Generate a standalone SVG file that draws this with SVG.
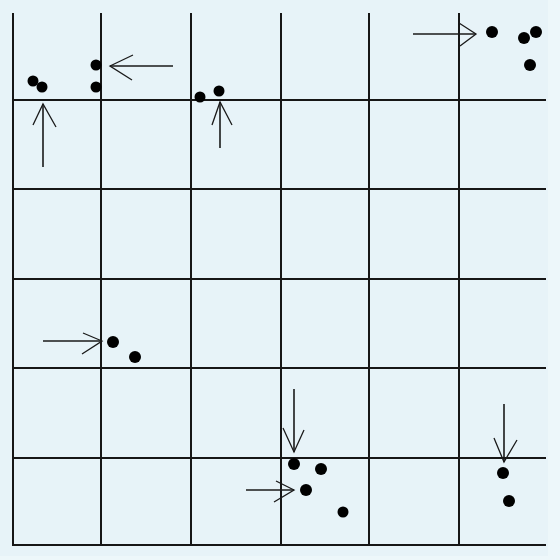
<svg xmlns="http://www.w3.org/2000/svg" width="560" height="560" viewBox="0 0 560 560">
<style>
.grid line{stroke:#161616;stroke-width:2}
.arrow{stroke:#1a1a1a;stroke-width:1.6;fill:none}
.head{stroke:#1a1a1a;stroke-width:1.3;fill:none}
.dot{fill:#000}
</style>
<rect x="0" y="0" width="560" height="560" fill="#edf7fa"/>
<rect x="0" y="0" width="548" height="556" fill="#e7f3f8"/>
<g id="grid" class="grid">
<line x1="13" y1="13" x2="13" y2="546"/>
<line x1="101" y1="13" x2="101" y2="546"/>
<line x1="191" y1="13" x2="191" y2="546"/>
<line x1="281" y1="13" x2="281" y2="546"/>
<line x1="369" y1="13" x2="369" y2="546"/>
<line x1="459" y1="13" x2="459" y2="546"/>
<line x1="12" y1="100" x2="546" y2="100"/>
<line x1="12" y1="189" x2="546" y2="189"/>
<line x1="12" y1="279" x2="546" y2="279"/>
<line x1="12" y1="368" x2="546" y2="368"/>
<line x1="12" y1="458" x2="546" y2="458"/>
<line x1="12" y1="545" x2="546" y2="545"/>
</g>
<g id="dots">
<circle class="dot" cx="33" cy="81" r="5.5"/>
<circle class="dot" cx="42" cy="87" r="5.5"/>
<circle class="dot" cx="96" cy="65" r="5.5"/>
<circle class="dot" cx="96" cy="87" r="5.5"/>
<circle class="dot" cx="200" cy="97" r="5.5"/>
<circle class="dot" cx="219" cy="91" r="5.5"/>
<circle class="dot" cx="492" cy="32" r="6"/>
<circle class="dot" cx="524" cy="38" r="6"/>
<circle class="dot" cx="536" cy="32" r="6"/>
<circle class="dot" cx="530" cy="65" r="6"/>
<circle class="dot" cx="113" cy="342" r="6"/>
<circle class="dot" cx="135" cy="357" r="6"/>
<circle class="dot" cx="294" cy="464" r="6"/>
<circle class="dot" cx="321" cy="469" r="6"/>
<circle class="dot" cx="306" cy="490" r="6"/>
<circle class="dot" cx="343" cy="512" r="5.5"/>
<circle class="dot" cx="503" cy="473" r="6"/>
<circle class="dot" cx="509" cy="501" r="6"/>
</g>
<g id="connectors">
<g id="a1"><line class="arrow" x1="43" y1="167" x2="43" y2="104"/><polyline class="head" points="33,125 43,104 56,127"/></g>
<g id="a2"><line class="arrow" x1="173" y1="66" x2="110" y2="66"/><polyline class="head" points="133,55 110,66 132,80"/></g>
<g id="a3"><line class="arrow" x1="220" y1="148" x2="220" y2="102"/><polyline class="head" points="212,125 220,102 232,125"/></g>
<g id="a4"><line class="arrow" x1="413" y1="34" x2="476" y2="34"/><polyline class="head" points="459,23 476,34 460,46"/></g>
<g id="a5"><line class="arrow" x1="43" y1="341" x2="102" y2="341"/><polyline class="head" points="83,333 102,341 82,354"/></g>
<g id="a6"><line class="arrow" x1="294" y1="389" x2="294" y2="452"/><polyline class="head" points="283,428 294,452 304,430"/></g>
<g id="a7"><line class="arrow" x1="246" y1="490" x2="294" y2="490"/><polyline class="head" points="276,481 294,490 274,502"/></g>
<g id="a8"><line class="arrow" x1="504" y1="404" x2="504" y2="462"/><polyline class="head" points="494,438 504,462 517,440"/></g>
</g>
</svg>
